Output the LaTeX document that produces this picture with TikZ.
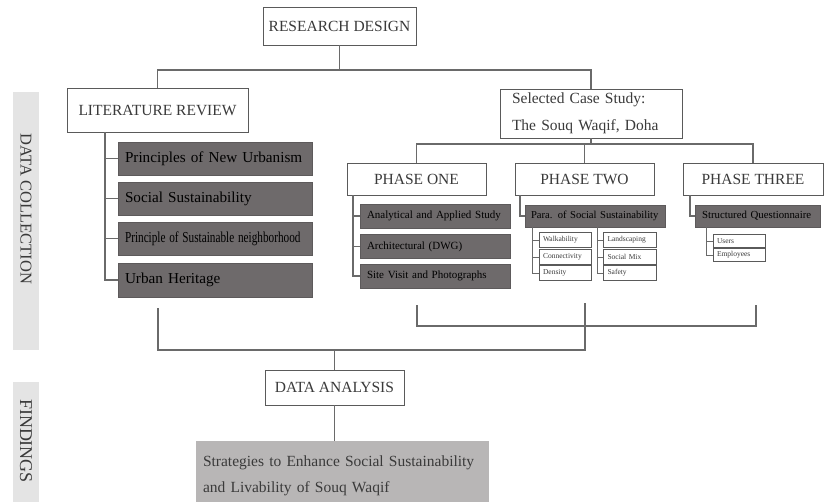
\documentclass[tikz,border=0pt]{standalone}
\usepackage{fontspec}
\setmainfont{Liberation Serif}
\usepackage{graphicx}
\definecolor{lc}{HTML}{6A6A6A}
\definecolor{bc}{HTML}{5A5A5A}
\definecolor{tc}{HTML}{3A3A3A}
\definecolor{df}{HTML}{6E6A6B}
\definecolor{fbc}{HTML}{B8B6B6}
\definecolor{sf}{HTML}{E4E4E4}
\newcommand\dktext[1]{\textcolor{black}{#1}}
\begin{document}
\begin{tikzpicture}[x=1pt,y=-1pt,
  conn/.style={draw=lc, line width=1.2pt},
  wbox/.style={draw=bc, fill=white, line width=0.9pt, text=tc, inner sep=0pt, align=center, font=\fontsize{15.5}{18}\selectfont},
  dbox/.style={fill=df, draw=df!85!black, line width=0.5pt, inner xsep=7pt, inner ysep=0pt, align=left},
  sbox/.style={draw=bc, fill=white, line width=0.8pt, text=tc, inner xsep=4pt, inner ysep=0pt, align=left, minimum width=52pt, text width=44pt, minimum height=15pt, font=\fontsize{7.5}{9}\selectfont},
  strip/.style={fill=sf, inner sep=0pt, text=tc}
]
\useasboundingbox (0,0) rectangle (835,501);

% side strips
\node[strip, minimum width=26pt, minimum height=258pt] (sdc) at (26,221) {};
\node[text=tc, rotate=-90, font=\fontsize{16.5}{18}\selectfont] (tdc) at (26,209) {DATA COLLECTION};
\node[strip, minimum width=26pt, minimum height=130pt] (sfi) at (26,447) {};
\node[text=tc, rotate=-90, font=\fontsize{18}{20}\selectfont] (tfi) at (26,441) {FINDINGS};

% top
\node[wbox, minimum width=153pt, minimum height=38pt] (rd) at (339.5,26) {RESEARCH DESIGN};
\node[wbox, minimum width=181pt, minimum height=44pt] (lr) at (157.5,110) {LITERATURE REVIEW};
\node[wbox, minimum width=182pt, minimum height=49pt, text width=158pt, align=left, inner xsep=12pt, font=\fontsize{15.5}{27}\selectfont] (cs) at (591,113.5) {Selected Case Study:\\The Souq Waqif, Doha};

% phases
\node[wbox, minimum width=139pt, minimum height=32pt] (p1) at (416.5,179) {PHASE ONE};
\node[wbox, minimum width=139pt, minimum height=32pt] (p2) at (584.5,179) {PHASE TWO};
\node[wbox, minimum width=140pt, minimum height=32pt] (p3) at (753,179) {PHASE THREE};

% literature boxes
\begin{scope}[every node/.style={dbox, minimum width=194pt, text width=180pt, font=\fontsize{15.2}{18}\selectfont}]
\node[minimum height=33pt] (lb1) at (215,158.5) {\dktext{Principles of New Urbanism}};
\node[minimum height=33pt] (lb2) at (215,198.5) {\dktext{Social Sustainability}};
\node[minimum height=33pt] (lb3) at (215,238.5) {\dktext{\scalebox{0.74}[1]{Principle of Sustainable neighborhood}}};
\node[minimum height=34pt] (lb4) at (215,280) {\dktext{Urban Heritage}};
\end{scope}

% phase one boxes
\begin{scope}[every node/.style={dbox, minimum width=150pt, text width=136pt, minimum height=24pt, font=\fontsize{11}{13}\selectfont}]
\node (a1) at (435,216) {\dktext{Analytical and Applied Study}};
\node (a2) at (435,246.5) {\dktext{Architectural (DWG)}};
\node (a3) at (435,276) {\dktext{Site Visit and Photographs}};
\end{scope}

% phase two
\node[dbox, minimum width=140pt, text width=128pt, inner xsep=6pt, minimum height=22pt, font=\fontsize{10.6}{13}\selectfont] (b0) at (595,216) {\dktext{Para. of Social Sustainability}};
\node[sbox] (bl1) at (565,240) {Walkability};
\node[sbox] (bl2) at (565,257) {Connectivity};
\node[sbox] (bl3) at (565,273) {Density};
\node[sbox, minimum width=53pt] (br1) at (629.5,240) {Landscaping};
\node[sbox, minimum width=53pt] (br2) at (629.5,257) {Social Mix};
\node[sbox, minimum width=53pt] (br3) at (629.5,273) {Safety};

% phase three
\node[dbox, minimum width=125pt, text width=111pt, minimum height=22pt, font=\fontsize{10.8}{13}\selectfont] (c0) at (757.5,216) {\dktext{Structured Questionnaire}};
\node[sbox, minimum height=13pt] (c1) at (739,241) {Users};
\node[sbox, minimum height=13pt] (c2) at (739,255) {Employees};

% bottom
\node[wbox, minimum width=139pt, minimum height=35pt] (da) at (334.5,387.5) {DATA ANALYSIS};
\node[fill=fbc, text=tc, minimum width=293pt, text width=279pt, inner xsep=7pt, inner ysep=0pt, minimum height=70pt, align=left, font=\fontsize{15.5}{26}\selectfont] (fb) at (342.5,476) {Strategies to Enhance Social Sustainability\\and Livability of Souq Waqif};

% connectors: top tree
\coordinate (j1) at (334,70);
\draw[conn] (rd.south) -- (rd.south |- j1);
\draw[conn] (lr.north) |- (j1) -| (cs.north);

% phase bar
\coordinate (j2) at (591,144);
\draw[conn] (cs.south) -- (j2);
\draw[conn] (p1.north) |- (j2) -| (p3.north);
\draw[conn] (p2.north) -- (p2.north |- j2);

% literature tree
\coordinate (lt) at (105,132);
\draw[conn] (lt) |- (lb4.west);
\foreach \i in {1,2,3} \draw[conn] (lt |- lb\i.west) -- (lb\i.west);

% phase one tree
\coordinate (p1t) at (353,195);
\draw[conn] (p1t) |- (a3.west);
\foreach \i in {1,2} \draw[conn] (p1t |- a\i.west) -- (a\i.west);

% phase two tree
\coordinate (p2t) at (520,195);
\draw[conn] (p2t) |- (b0.west);
\coordinate (b0l) at (532,227);
\draw[conn, line width=0.8pt] (b0l) |- (bl3.west);
\foreach \i in {1,2} \draw[conn, line width=0.8pt] (b0l |- bl\i.west) -- (bl\i.west);
\coordinate (b0r) at (597,227);
\draw[conn, line width=0.8pt] (b0r) |- (br3.west);
\foreach \i in {1,2} \draw[conn, line width=0.8pt] (b0r |- br\i.west) -- (br\i.west);

% phase three tree
\coordinate (p3t) at (690,195);
\draw[conn] (p3t) |- (c0.west);
\coordinate (c0l) at (706,227);
\draw[conn, line width=0.8pt] (c0l) |- (c2.west);
\draw[conn, line width=0.8pt] (c0l |- c1.west) -- (c1.west);

% bracket and joins
\coordinate (k1) at (417,305);
\coordinate (k2) at (756,305);
\draw[conn] (k1) -- ++(0,21) -| (k2);
\coordinate (k3) at (585,303);
\coordinate (k4) at (585,350);
\coordinate (k5) at (158,308);
\draw[conn] (k3) -- (k4) -| (k5);
\draw[conn] (k4 -| da.north) -- (da.north);
\draw[conn] (da.south) -- (da.south |- fb.north);
\end{tikzpicture}
\end{document}
